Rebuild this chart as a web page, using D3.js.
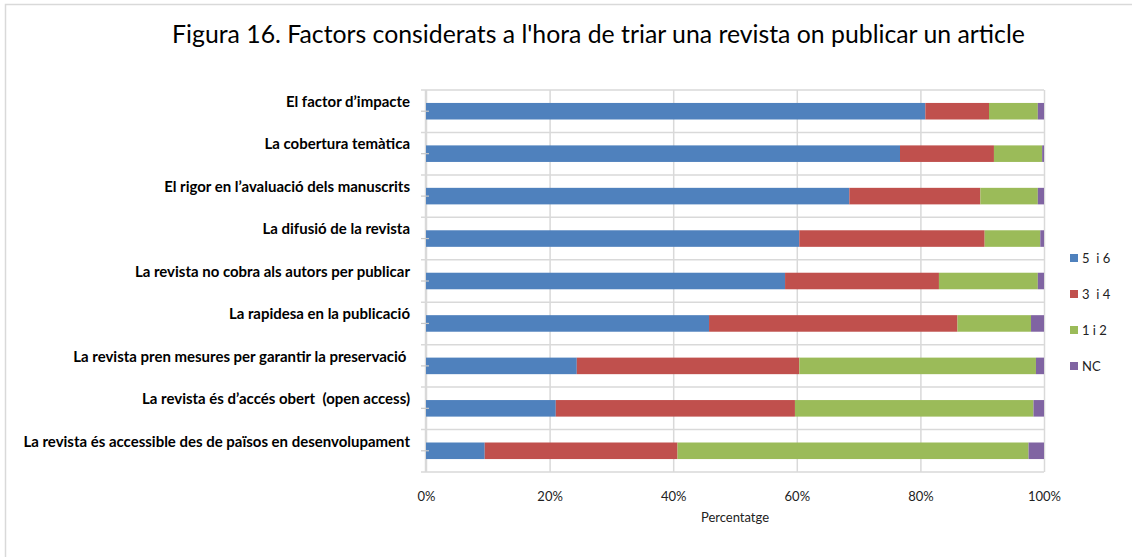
<!DOCTYPE html>
<html>
<head>
<meta charset="utf-8">
<script src="https://cdn.jsdelivr.net/npm/d3@7"></script>
<style>
  body { margin: 0; background: #fff; }
  text { font-family: Lato, "Open Sans", sans-serif; }
</style>
</head>
<body>
<svg id="chart" width="1132" height="557"></svg>
<script>

const categories = [
    "El factor d\u2019impacte",
    "La cobertura temàtica",
    "El rigor en l\u2019avaluació dels manuscrits",
    "La difusió de la revista",
    "La revista no cobra als autors per publicar",
    "La rapidesa en la publicació",
    "La revista pren mesures per garantir la preservació ",
    "La revista és d\u2019accés obert  (open access)",
    "La revista és accessible des de països en desenvolupament"
];

const seriesNames = ["5  i 6", "3  i 4", "1 i 2", "NC"];

const values56 = [80.8, 76.7, 68.5, 60.4, 58.1, 45.8, 24.4, 21.0, 9.5];
const values34 = [10.3, 15.2, 21.2, 30.0, 24.9, 40.2, 36.0, 38.7, 31.2];
const values12 = [7.9, 7.8, 9.3, 9.0, 16.0, 11.9, 38.3, 38.6, 56.8];
const valuesNC = [1.0, 0.3, 1.0, 0.6, 1.0, 2.1, 1.3, 1.7, 2.5];

const xTicks = [0, 20, 40, 60, 80, 100];

const colors = ["#4F81BD", "#C0504D", "#9BBB59", "#8064A2"];

const rows = categories.map((c, i) => ({
    cat: c,
    "5  i 6": values56[i],
    "3  i 4": values34[i],
    "1 i 2": values12[i],
    "NC": valuesNC[i]
}));

const svg = d3.select("#chart");

// outer frame
svg.append("rect")
    .attr("x", 5.5)
    .attr("y", 4.5)
    .attr("width", 1200)
    .attr("height", 600)
    .attr("fill", "#fff")
    .attr("stroke", "#d9d9d9")
    .attr("stroke-width", 1.5);

const x = d3.scaleLinear()
    .domain([0, 100])
    .range([426, 1044]);

const y = d3.scaleBand()
    .domain(categories)
    .range([90, 472])
    .paddingInner(0.61)
    .paddingOuter(0.305);

const step = y.step();
const colorScale = d3.scaleOrdinal().domain(seriesNames).range(colors);

// vertical gridlines
svg.append("g")
    .attr("transform", "translate(0,472)")
    .call(d3.axisBottom(x).tickValues(xTicks).tickSize(-382).tickFormat(""))
    .call(g => g.select(".domain").remove())
    .call(g => g.selectAll("line").attr("stroke", "#d9d9d9").attr("stroke-width", 1.5));

// horizontal gridlines at category boundaries
const bounds = d3.range(categories.length + 1).map(i => 90 + i * step);
svg.append("g")
    .selectAll("line")
    .data(bounds)
    .enter()
    .append("line")
    .attr("x1", 421)
    .attr("x2", 1044)
    .attr("y1", d => d)
    .attr("y2", d => d)
    .attr("stroke", "#d9d9d9")
    .attr("stroke-width", 1.5);

// left axis line
svg.append("line")
    .attr("x1", 425.5).attr("x2", 425.5)
    .attr("y1", 90).attr("y2", 472)
    .attr("stroke", "#d9d9d9")
    .attr("stroke-width", 1.5);

// bars
const stacked = d3.stack().keys(seriesNames)(rows);

svg.append("g")
    .selectAll("g")
    .data(stacked)
    .enter()
    .append("g")
    .attr("fill", d => colorScale(d.key))
    .selectAll("rect")
    .data(d => d)
    .enter()
    .append("rect")
    .attr("x", d => x(d[0]))
    .attr("width", d => x(d[1]) - x(d[0]))
    .attr("y", d => y(d.data.cat))
    .attr("height", y.bandwidth());

// small ticks at bar centres
svg.append("g")
    .selectAll("line")
    .data(categories)
    .enter()
    .append("line")
    .attr("x1", 421)
    .attr("x2", 429)
    .attr("y1", d => y(d) + y.bandwidth() / 2)
    .attr("y2", d => y(d) + y.bandwidth() / 2)
    .attr("stroke", "#c8c8c8")
    .attr("stroke-width", 1.2);

// category labels
const labels = svg.append("g")
    .selectAll("text")
    .data(categories)
    .enter()
    .append("text")
    .attr("x", 410)
    .attr("y", d => y(d) + y.bandwidth() / 2 - 9.5)
    .attr("dy", "0.35em")
    .attr("text-anchor", "end")
    .attr("font-weight", "bold")
    .attr("font-size", 13)
    .attr("fill", "#000")
    .style("white-space", "pre")
    .text(d => d);

// fit label size to the widest label (387px wide in the original)
const widest = d3.max(labels.nodes(), n => n.getComputedTextLength());
labels.attr("font-size", 13 * 387 / widest);

// x tick labels
svg.append("g")
    .attr("transform", "translate(0,472)")
    .call(d3.axisBottom(x).tickValues(xTicks).tickSize(0).tickPadding(20).tickFormat(d => d + "%"))
    .call(g => g.select(".domain").remove())
    .call(g => g.selectAll("text")
        .attr("font-size", 13)
        .attr("fill", "#222")
        .style("font-family", "Lato, sans-serif"));

// x axis title
svg.append("text")
    .attr("x", (426 + 1044) / 2)
    .attr("y", 522)
    .attr("text-anchor", "middle")
    .attr("font-size", 13)
    .attr("fill", "#222")
    .text("Percentatge");

// chart title
const title = svg.append("text")
    .attr("x", (172 + 1025) / 2)
    .attr("y", 43)
    .attr("text-anchor", "middle")
    .attr("font-size", 22)
    .attr("fill", "#000")
    .text("Figura 16. Factors considerats a l'hora de triar una revista on publicar un article");

const titleWidth = title.node().getComputedTextLength();
title.attr("font-size", 22 * 853 / titleWidth);

// legend
const legendY = [258, 294, 330, 366];
const legend = svg.append("g")
    .selectAll("g")
    .data(seriesNames)
    .enter()
    .append("g")
    .attr("transform", (d, i) => `translate(1070,${legendY[i]})`);

legend.append("rect")
    .attr("x", 0)
    .attr("y", -4)
    .attr("width", 8)
    .attr("height", 8)
    .attr("fill", d => colorScale(d));

legend.append("text")
    .attr("x", 12)
    .attr("dy", "0.35em")
    .attr("font-size", 13)
    .attr("fill", "#222")
    .style("white-space", "pre")
    .text(d => d);

</script>
</body>
</html>
